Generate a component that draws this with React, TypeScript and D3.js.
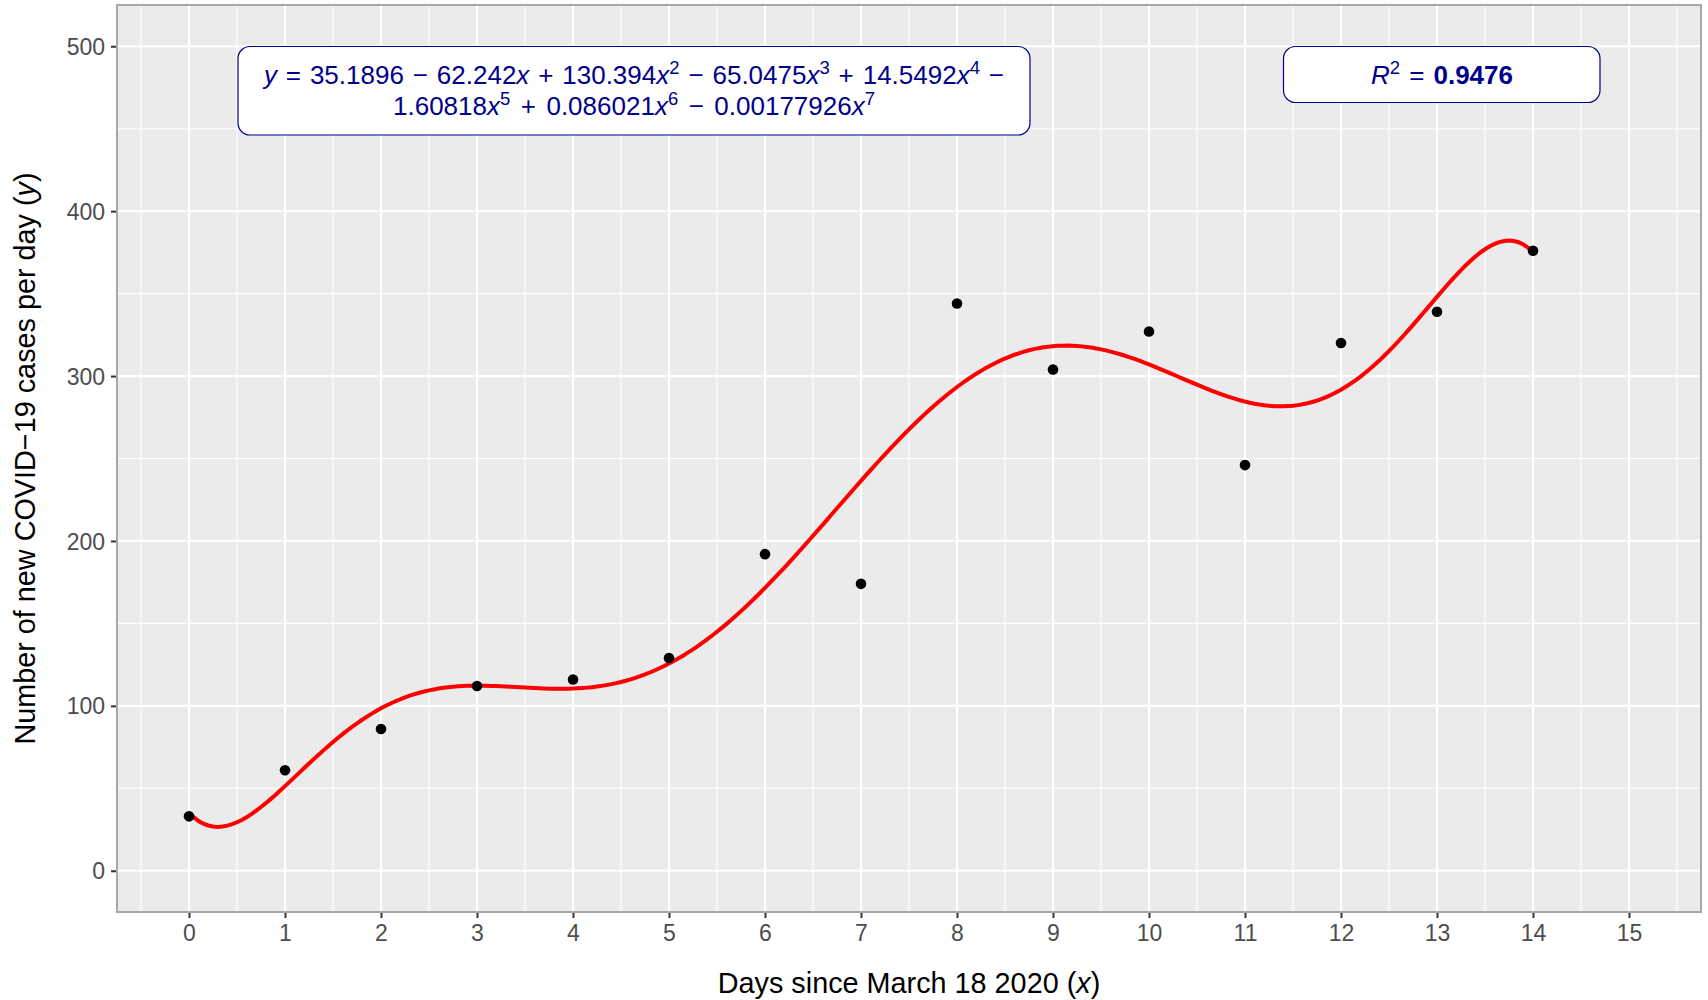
import { useRef, useEffect } from "react";
import * as d3 from "d3";

// daily new cases
const days = [0, 1, 2, 3, 4, 5, 6, 7, 8, 9, 10, 11, 12, 13, 14];
const cases = [33, 61, 86, 112, 116, 129, 192, 174, 344, 304, 327, 246, 320, 339, 376];

// fitted polynomial, coefficients as printed in the label (x^0 .. x^7)
const coefs = [35.1896, -62.242, 130.394, -65.0475, 14.5492, -1.60818, 0.086021, -0.00177926];

const xTicks = d3.range(0, 16);
const yTicks = [0, 100, 200, 300, 400, 500];
const r2 = "0.9476";

const W = 1708;
const H = 1000;
const FONT = "'Liberation Sans', Arial, Helvetica, sans-serif";

// stretch the spaces of a label so it covers the wanted width
function fitWidth(sel: d3.Selection<SVGTextElement, unknown, null, undefined>, target: number) {
  const node = sel.node();
  if (!node) return;
  const len = node.getComputedTextLength();
  const spaces = (node.textContent || "").split(" ").length - 1;
  if (spaces > 0 && len < target) sel.attr("word-spacing", (target - len) / spaces);
}

export default function App() {
  const ref = useRef<SVGSVGElement>(null);

  useEffect(() => {
    if (!ref.current) return;
    const svg = d3.select(ref.current);
    svg.selectAll("*").remove();

    const panel = { left: 117, right: 1701, top: 5, bottom: 912 };

    const x = d3.scaleLinear().domain([-0.75, 15.75]).range([panel.left, panel.right]);
    const y = d3.scaleLinear().domain([-25, 525]).range([panel.bottom, panel.top]);

    svg.append("rect")
      .attr("width", W).attr("height", H).attr("fill", "#ffffff");

    svg.append("rect")
      .attr("x", panel.left).attr("y", panel.top)
      .attr("width", panel.right - panel.left).attr("height", panel.bottom - panel.top)
      .attr("fill", "#ebebeb");

    // minor grid
    const xMinor = d3.range(-0.5, 16, 1);
    const yMinor = d3.range(0, 525, 50).filter(v => v % 100 !== 0);
    const grid = svg.append("g");
    grid.selectAll(".xm").data(xMinor).join("line")
      .attr("x1", d => x(d)).attr("x2", d => x(d))
      .attr("y1", panel.top).attr("y2", panel.bottom)
      .attr("stroke", "#ffffff").attr("stroke-width", 1.1);
    grid.selectAll(".ym").data(yMinor).join("line")
      .attr("x1", panel.left).attr("x2", panel.right)
      .attr("y1", d => y(d)).attr("y2", d => y(d))
      .attr("stroke", "#ffffff").attr("stroke-width", 1.1);
    // major grid
    grid.selectAll(".xM").data(xTicks).join("line")
      .attr("x1", d => x(d)).attr("x2", d => x(d))
      .attr("y1", panel.top).attr("y2", panel.bottom)
      .attr("stroke", "#ffffff").attr("stroke-width", 2.2);
    grid.selectAll(".yM").data(yTicks).join("line")
      .attr("x1", panel.left).attr("x2", panel.right)
      .attr("y1", d => y(d)).attr("y2", d => y(d))
      .attr("stroke", "#ffffff").attr("stroke-width", 2.2);

    // fitted curve
    const poly = (v: number) => coefs.reduce((s, c, i) => s + c * Math.pow(v, i), 0);
    const xs = d3.range(0, 14.0001, 0.05);
    const line = d3.line<number>().x(d => x(d)).y(d => y(poly(d)));
    svg.append("path")
      .datum(xs)
      .attr("d", line)
      .attr("fill", "none")
      .attr("stroke", "#ff0000")
      .attr("stroke-width", 4);

    // points
    svg.append("g").selectAll("circle").data(days).join("circle")
      .attr("cx", d => x(d)).attr("cy", (d, i) => y(cases[i]))
      .attr("r", 5.3).attr("fill", "#000000");

    // panel border
    svg.append("rect")
      .attr("x", panel.left).attr("y", panel.top)
      .attr("width", panel.right - panel.left).attr("height", panel.bottom - panel.top)
      .attr("fill", "none").attr("stroke", "#a8a8a8").attr("stroke-width", 2);

    // axes
    const xAxis = d3.axisBottom(x).tickValues(xTicks).tickSize(5).tickPadding(7).tickFormat(d3.format("d"));
    const gx = svg.append("g").attr("transform", `translate(0, ${panel.bottom + 1})`).call(xAxis);
    const yAxis = d3.axisLeft(y).tickValues(yTicks).tickSize(5).tickPadding(6).tickFormat(d3.format("d"));
    const gy = svg.append("g").attr("transform", `translate(${panel.left - 1}, 0)`).call(yAxis);
    [gx, gy].forEach(g => {
      g.select(".domain").remove();
      g.selectAll(".tick line").attr("stroke", "#333333").attr("stroke-width", 2);
      g.selectAll(".tick text")
        .attr("fill", "#4d4d4d")
        .style("font-family", FONT)
        .style("font-size", "23px");
    });
    gy.selectAll(".tick text").attr("dy", "0.35em");

    // axis titles
    const xt = svg.append("text")
      .attr("x", (panel.left + panel.right) / 2).attr("y", 993)
      .attr("text-anchor", "middle")
      .style("font-family", FONT).style("font-size", "28.8px").attr("fill", "#000");
    xt.append("tspan").text("Days since March 18 2020 (");
    xt.append("tspan").attr("font-style", "italic").text("x");
    xt.append("tspan").text(")");

    const yt = svg.append("text")
      .attr("transform", `translate(35, ${(panel.top + panel.bottom) / 2}) rotate(-90)`)
      .attr("text-anchor", "middle")
      .style("font-family", FONT).style("font-size", "28.8px").attr("fill", "#000");
    yt.append("tspan").text("Number of new COVID\u221219 cases per day (");
    yt.append("tspan").attr("font-style", "italic").text("y");
    yt.append("tspan").text(")");

    // equation label
    const navy = "#00008b";
    svg.append("rect")
      .attr("x", 238).attr("y", 46.5).attr("width", 792).attr("height", 88.5)
      .attr("rx", 12).attr("fill", "#ffffff").attr("stroke", navy).attr("stroke-width", 1.2);

    const fmt = (c: number) => String(Math.abs(c));
    const terms = coefs.map((c, i) => ({ c, i }));
    const lines = [terms.slice(0, 5), terms.slice(5)];
    const baselines = [83.5, 114.5];
    const widths = [740, 482];
    lines.forEach((ts, li) => {
      const t = svg.append("text")
        .attr("x", 634).attr("y", baselines[li])
        .attr("text-anchor", "middle")
        .style("font-family", FONT).style("font-size", "26px").attr("fill", navy);
      let back = 0;
      const add = (s: string, italic = false) => {
        const sp = t.append("tspan").text(s);
        if (italic) sp.attr("font-style", "italic");
        if (back) { sp.attr("dy", back); back = 0; }
        return sp;
      };
      ts.forEach((term, k) => {
        if (term.i === 0) {
          add("y", true);
          add(" = " + fmt(term.c));
          return;
        }
        if (!(li === 1 && k === 0)) add(term.c < 0 ? " \u2212 " : " + ");
        add(fmt(term.c));
        add("x", true);
        if (term.i > 1) {
          add(String(term.i)).attr("dy", -10).style("font-size", "18.5px");
          back = 10;
        }
      });
      if (li === 0) add(" \u2212");
      fitWidth(t, widths[li]);
    });

    // R squared label
    svg.append("rect")
      .attr("x", 1283.5).attr("y", 46.5).attr("width", 316.5).attr("height", 56)
      .attr("rx", 12).attr("fill", "#ffffff").attr("stroke", navy).attr("stroke-width", 1.2);
    const rt = svg.append("text")
      .attr("x", 1442).attr("y", 84)
      .attr("text-anchor", "middle")
      .style("font-family", FONT).style("font-size", "26px").attr("fill", navy);
    rt.append("tspan").attr("font-style", "italic").text("R");
    rt.append("tspan").attr("dy", -10).style("font-size", "18.5px").text("2");
    rt.append("tspan").attr("dy", 10).text(" = ");
    rt.append("tspan").attr("font-weight", "bold").text(r2);
    fitWidth(rt, 142);
  }, []);

  return (
    <svg
      ref={ref}
      width={W}
      height={H}
      style={{ position: "absolute", left: 0, top: 0, display: "block" }}
    />
  );
}
